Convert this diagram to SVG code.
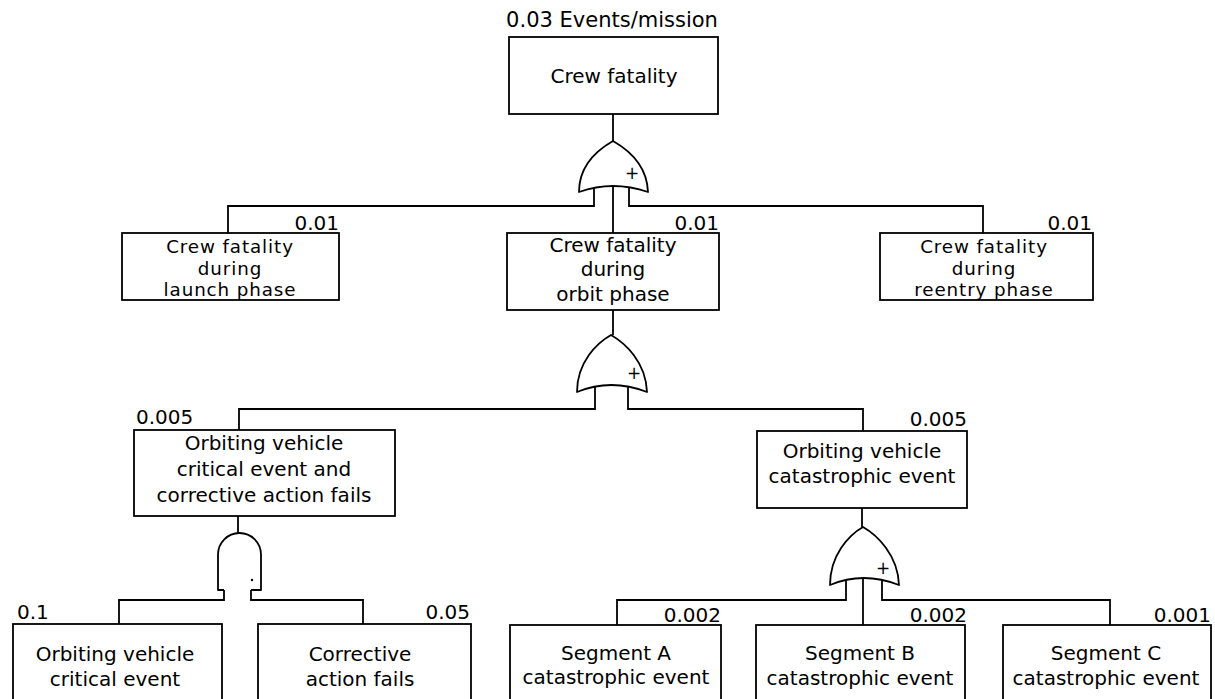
<svg xmlns="http://www.w3.org/2000/svg" width="1215" height="699" viewBox="0 0 1215 699">
<style>
  .box{fill:#fff;stroke:#000;stroke-width:1.8}
  .gate{fill:#fff;stroke:#000;stroke-width:1.8;stroke-linejoin:round}
  .ln{fill:none;stroke:#000;stroke-width:1.8}
  text{font-family:"DejaVu Sans","Liberation Sans",sans-serif;font-size:20px;fill:#000}
  .c{text-anchor:middle}
  .e{text-anchor:end}
  .tight{font-size:18.3px;letter-spacing:0.9px}
  .plus{font-size:17px;text-anchor:middle}
</style>
<rect width="1215" height="699" fill="#fff"/>
<g id="connectors">
  <path class="ln" d="M613,114 V141"/>
  <path class="ln" d="M594,188 V206 H228 V233"/>
  <path class="ln" d="M629,188 V206 H983 V233"/>
  <path class="ln" d="M613,186 V233"/>
  <path class="ln" d="M613,310 V335"/>
  <path class="ln" d="M595,387 V409 H239 V430"/>
  <path class="ln" d="M628,387 V409 H863 V431"/>
  <path class="ln" d="M238,516 V533"/>
  <path class="ln" d="M224,590 V600 H119 V624"/>
  <path class="ln" d="M251,590 V600 H363 V624"/>
  <path class="ln" d="M862,508 V527"/>
  <path class="ln" d="M846,580 V600 H617 V625"/>
  <path class="ln" d="M882,580 V600 H1110 V625"/>
  <path class="ln" d="M863,578 V625"/>
</g>
<g id="gate-or-1">
  <path class="gate" d="M613,141 C627,149 647,165 648,192 Q613,180 579,192 C579,165 599,149 613,141 Z"/>
  <text class="plus" x="632" y="179">+</text>
</g>
<g id="gate-or-2">
  <path class="gate" d="M611,335 C625,343 646,362 647,392 Q611,378 577,392 C577,362 597,343 611,335 Z"/>
  <text class="plus" x="634" y="379">+</text>
</g>
<g id="gate-and">
  <path class="gate" d="M224,590 H218 V554.5 A21.5,21.5 0 0 1 261,554.5 V590 H251"/>
  <circle cx="252" cy="580" r="1.2" fill="#000"/>
</g>
<g id="gate-or-3">
  <path class="gate" d="M863,527 C877,535 898,555 899,585 Q863,571 830,585 C830,555 849,535 863,527 Z"/>
  <text class="plus" x="883" y="574">+</text>
</g>
<g id="node-crew-fatality">
  <text class="c" x="612" y="27" style="font-size:21px">0.03 Events/mission</text>
  <rect class="box" x="509" y="37" width="209" height="77"/>
  <text class="c" x="614" y="83">Crew fatality</text>
</g>
<g id="node-launch">
  <rect class="box" x="122" y="233" width="217" height="67"/>
  <text class="e" x="339" y="230">0.01</text>
  <text class="c tight" x="230" y="253">Crew fatality</text>
  <text class="c tight" x="230" y="274.5">during</text>
  <text class="c tight" x="230" y="296">launch phase</text>
</g>
<g id="node-orbit">
  <rect class="box" x="507" y="233" width="212" height="77"/>
  <text class="e" x="719" y="230">0.01</text>
  <text class="c" x="613" y="252">Crew fatality</text>
  <text class="c" x="613" y="276">during</text>
  <text class="c" x="613" y="301">orbit phase</text>
</g>
<g id="node-reentry">
  <rect class="box" x="880" y="233" width="213" height="67"/>
  <text class="e" x="1092" y="230">0.01</text>
  <text class="c tight" x="984" y="253">Crew fatality</text>
  <text class="c tight" x="984" y="274.5">during</text>
  <text class="c tight" x="984" y="296">reentry phase</text>
</g>
<g id="node-critical-and">
  <rect class="box" x="134" y="430" width="261" height="86"/>
  <text x="136" y="424">0.005</text>
  <text class="c" x="264" y="450">Orbiting vehicle</text>
  <text class="c" x="264" y="476">critical event and</text>
  <text class="c" x="264" y="502">corrective action fails</text>
</g>
<g id="node-catastrophic">
  <rect class="box" x="757" y="431" width="210" height="77"/>
  <text class="e" x="967" y="426">0.005</text>
  <text class="c" x="862" y="458">Orbiting vehicle</text>
  <text class="c" x="862" y="483">catastrophic event</text>
</g>
<g id="node-ov-critical">
  <rect class="box" x="13" y="624" width="209" height="100"/>
  <text x="17" y="619">0.1</text>
  <text class="c" x="115" y="661">Orbiting vehicle</text>
  <text class="c" x="115" y="686">critical event</text>
</g>
<g id="node-corrective">
  <rect class="box" x="258" y="624" width="213" height="100"/>
  <text class="e" x="470" y="619">0.05</text>
  <text class="c" x="360" y="661">Corrective</text>
  <text class="c" x="360" y="686">action fails</text>
</g>
<g id="node-seg-a">
  <rect class="box" x="510" y="625" width="211" height="100"/>
  <text class="e" x="721" y="622">0.002</text>
  <text class="c" x="616" y="660">Segment A</text>
  <text class="c" x="616" y="684">catastrophic event</text>
</g>
<g id="node-seg-b">
  <rect class="box" x="756" y="625" width="209" height="100"/>
  <text class="e" x="967" y="622">0.002</text>
  <text class="c" x="860" y="660">Segment B</text>
  <text class="c" x="860" y="685">catastrophic event</text>
</g>
<g id="node-seg-c">
  <rect class="box" x="1003" y="625" width="208" height="100"/>
  <text class="e" x="1211" y="622">0.001</text>
  <text class="c" x="1106" y="660">Segment C</text>
  <text class="c" x="1106" y="685">catastrophic event</text>
</g>
</svg>
